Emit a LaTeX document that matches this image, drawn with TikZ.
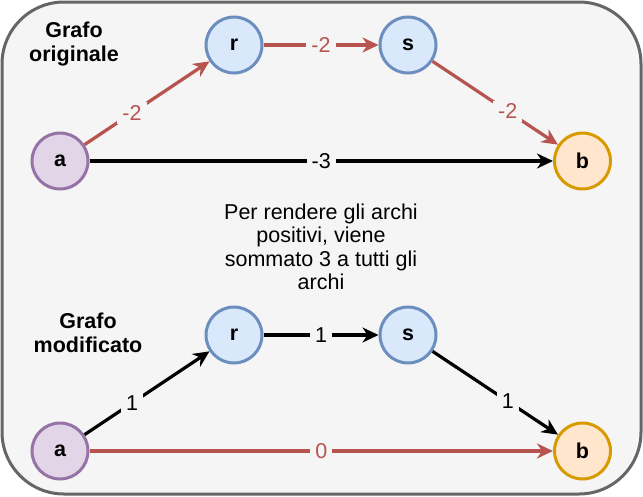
\documentclass[tikz,border=0pt]{standalone}
\usepackage{fontspec}
\setmainfont{Liberation Sans}
\usetikzlibrary{arrows.meta}
\definecolor{bgc}{HTML}{F5F5F5}
\definecolor{framec}{HTML}{666666}
\definecolor{redc}{HTML}{B85450}
\definecolor{purf}{HTML}{E1D5E7}
\definecolor{purd}{HTML}{9673A6}
\definecolor{bluf}{HTML}{DAE8FC}
\definecolor{blud}{HTML}{6C8EBF}
\definecolor{orgf}{HTML}{FFE6CC}
\definecolor{orgd}{HTML}{D79B00}
\begin{document}
\begin{tikzpicture}[x=1pt,y=-1pt,
  vtx/.style={circle, minimum size=56pt, inner sep=0pt, line width=3pt,
    font=\bfseries\fontsize{21.5}{24}\selectfont},
  vtxa/.style={vtx, fill=purf, draw=purd},
  vtxb/.style={vtx, fill=orgf, draw=orgd},
  vtxrs/.style={vtx, fill=bluf, draw=blud},
  edge/.style={line width=3.2pt, -{Stealth[length=16pt,width=15pt,inset=5pt]}},
  redge/.style={edge, draw=redc},
  lbl/.style={fill=bgc, inner xsep=5pt, inner ysep=3pt, font=\fontsize{21.5}{24}\selectfont},
  rlbl/.style={lbl, text=redc},
  title/.style={align=center, font=\bfseries\fontsize{21.5}{23.5}\selectfont},
  note/.style={align=center, font=\fontsize{21.5}{23.5}\selectfont}]
\useasboundingbox (0,0) rectangle (643,496);
\draw[fill=bgc, draw=framec, line width=3pt, rounded corners=62pt] (2,2) rectangle (641,494);

% Top graph
\node[title] (t1) at (74,44) {Grafo\\originale};
\node[vtxa] (a1) at (60,161) {a};
\node[vtxrs] (r1) at (234,45) {r};
\node[vtxrs] (s1) at (408,45) {s};
\node[vtxb] (b1) at (582.5,161) {b};
\draw[redge] (a1) -- node[rlbl, pos=0.38] {-2} (r1);
\draw[redge] (r1) -- node[rlbl, pos=0.5] {-2} (s1);
\draw[redge] (s1) -- node[rlbl, pos=0.6] {-2} (b1);
\draw[edge] (a1) -- node[lbl, pos=0.5] {-3} (b1);

% Note
\node[note] (n) at (321,247) {Per rendere gli archi\\positivi, viene\\sommato 3 a tutti gli\\archi};

% Bottom graph
\node[title] (t2) at (88,333) {Grafo\\modificato};
\node[vtxa] (a2) at (60,451) {a};
\node[vtxrs] (r2) at (234,335) {r};
\node[vtxrs] (s2) at (408,335) {s};
\node[vtxb] (b2) at (582.5,451) {b};
\draw[edge] (a2) -- node[lbl, pos=0.38] {1} (r2);
\draw[edge] (r2) -- node[lbl, pos=0.5] {1} (s2);
\draw[edge] (s2) -- node[lbl, pos=0.6] {1} (b2);
\draw[redge] (a2) -- node[rlbl, pos=0.5] {0} (b2);
\end{tikzpicture}
\end{document}
